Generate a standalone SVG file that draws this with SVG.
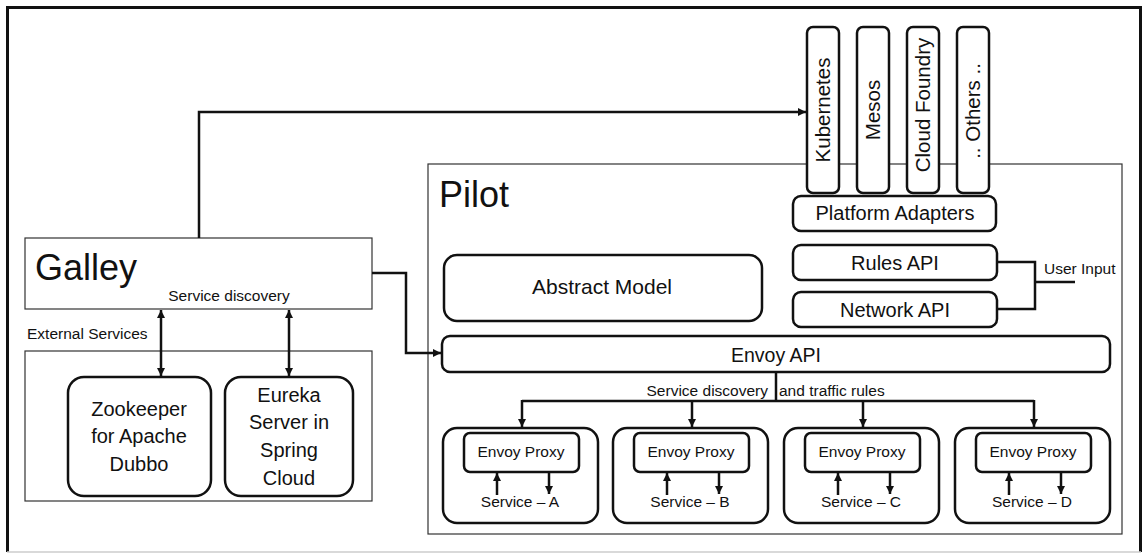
<svg xmlns="http://www.w3.org/2000/svg" width="1143" height="553" viewBox="0 0 1143 553">
<style>
text{font-family:"Liberation Sans",Arial,sans-serif;fill:#111}
.thin{fill:#fff;stroke:#333;stroke-width:1.2}
.rb{fill:#fff;stroke:#111;stroke-width:2.5}
.ln{fill:none;stroke:#111;stroke-width:2.5}
.c{text-anchor:middle}
</style>
<defs>
<marker id="arr" viewBox="0 0 10 10" refX="10" refY="5" markerWidth="8" markerHeight="8" markerUnits="userSpaceOnUse" orient="auto-start-reverse"><path d="M0,0 L10,5 L0,10 z" fill="#111"/></marker>
</defs>
<rect x="0" y="0" width="1143" height="553" fill="#fff"/>
<path d="M7.5,552 V7.5 H1140.5 V552" fill="none" stroke="#111" stroke-width="3"/>
<line x1="7" y1="552" x2="1141" y2="552" stroke="#ccc" stroke-width="1.5"/>

<g id="galley">
<rect class="thin" x="25" y="238" width="347" height="71"/>
<text x="35" y="280" font-size="36">Galley</text>
<text x="229" y="301" font-size="15.5" class="c">Service discovery</text>
</g>
<g id="external-services">
<text x="27" y="339" font-size="15.5">External Services</text>
<rect class="thin" x="25" y="351" width="347" height="150"/>
</g>
<g id="zookeeper">
<rect class="rb" x="68" y="377" width="143" height="119" rx="16"/>
<text class="c" font-size="20" x="139" y="416">Zookeeper</text>
<text class="c" font-size="20" x="139" y="443">for Apache</text>
<text class="c" font-size="20" x="139" y="471">Dubbo</text>
</g>
<g id="eureka">
<rect class="rb" x="225" y="377" width="128" height="119" rx="16"/>
<text class="c" font-size="20" x="289" y="402">Eureka</text>
<text class="c" font-size="20" x="289" y="429">Server in</text>
<text class="c" font-size="20" x="289" y="457">Spring</text>
<text class="c" font-size="20" x="289" y="485">Cloud</text>
</g>
<g id="pilot">
<rect class="thin" x="428" y="164" width="694" height="370"/>
<text x="439" y="207" font-size="36">Pilot</text>
</g>
<g id="kubernetes">
<rect class="rb" x="807" y="27" width="32" height="166" rx="6"/>
<text class="c" font-size="20.5" transform="translate(830,110) rotate(-90)">Kubernetes</text>
</g>
<g id="mesos">
<rect class="rb" x="857" y="27" width="32" height="166" rx="6"/>
<text class="c" font-size="20.5" transform="translate(880,110) rotate(-90)">Mesos</text>
</g>
<g id="cloud-foundry">
<rect class="rb" x="907" y="27" width="32" height="166" rx="6"/>
<text class="c" font-size="20.5" transform="translate(930,105) rotate(-90)">Cloud Foundry</text>
</g>
<g id="others">
<rect class="rb" x="957" y="27" width="32" height="166" rx="6"/>
<text class="c" font-size="20.5" transform="translate(980,111) rotate(-90)">.. Others ..</text>
</g>
<g id="platform-adapters">
<rect class="rb" x="793" y="196" width="203" height="35" rx="8"/>
<text class="c" font-size="20" x="895" y="220">Platform Adapters</text>
</g>
<g id="rules-api">
<rect class="rb" x="793" y="245" width="204" height="35" rx="8"/>
<text class="c" font-size="20" x="895" y="270">Rules API</text>
</g>
<g id="network-api">
<rect class="rb" x="793" y="292" width="204" height="35" rx="8"/>
<text class="c" font-size="20" x="895" y="317">Network API</text>
</g>
<g id="user-input">
<text x="1044" y="274" font-size="15.5">User Input</text>
</g>
<g id="abstract-model">
<rect class="rb" x="444" y="255" width="318" height="66" rx="13"/>
<text class="c" font-size="21" x="602" y="294">Abstract Model</text>
</g>
<g id="envoy-api">
<rect class="rb" x="442" y="336" width="668" height="36" rx="8"/>
<text class="c" font-size="19.5" x="776" y="362">Envoy API</text>
</g>
<g id="traffic-label">
<text x="768" y="396" font-size="15.5" text-anchor="end">Service discovery</text>
<text x="779" y="396" font-size="15.5">and traffic rules</text>
</g>
<g id="service-a">
<rect class="rb" x="443" y="428" width="155" height="95" rx="14"/>
<rect class="rb" x="464" y="433" width="115" height="39" rx="6"/>
<text class="c" font-size="15.5" x="521" y="457">Envoy Proxy</text>
<text class="c" font-size="15.5" x="520" y="507">Service – A</text>
</g>
<g id="service-b">
<rect class="rb" x="613" y="428" width="155" height="95" rx="14"/>
<rect class="rb" x="634" y="433" width="115" height="39" rx="6"/>
<text class="c" font-size="15.5" x="691" y="457">Envoy Proxy</text>
<text class="c" font-size="15.5" x="690" y="507">Service – B</text>
</g>
<g id="service-c">
<rect class="rb" x="784" y="428" width="155" height="95" rx="14"/>
<rect class="rb" x="805" y="433" width="115" height="39" rx="6"/>
<text class="c" font-size="15.5" x="862" y="457">Envoy Proxy</text>
<text class="c" font-size="15.5" x="861" y="507">Service – C</text>
</g>
<g id="service-d">
<rect class="rb" x="955" y="428" width="155" height="95" rx="14"/>
<rect class="rb" x="976" y="433" width="115" height="39" rx="6"/>
<text class="c" font-size="15.5" x="1033" y="457">Envoy Proxy</text>
<text class="c" font-size="15.5" x="1032" y="507">Service – D</text>
</g>

<g id="connectors">
<path class="ln" d="M199,238 V112 H806" marker-end="url(#arr)"/>
<path class="ln" d="M372,273 H406 V353 H441" marker-end="url(#arr)"/>
<path class="ln" d="M161,310 V376" marker-start="url(#arr)" marker-end="url(#arr)"/>
<path class="ln" d="M289,310 V376" marker-start="url(#arr)" marker-end="url(#arr)"/>
<path class="ln" d="M997,262 H1035 V309 H997"/>
<path class="ln" d="M1035,282 H1075"/>
<path class="ln" d="M776,372 V401"/>
<path class="ln" d="M522,401 H1034"/>
<path class="ln" d="M522,400 V427" marker-end="url(#arr)"/>
<path class="ln" d="M692,400 V427" marker-end="url(#arr)"/>
<path class="ln" d="M863,400 V427" marker-end="url(#arr)"/>
<path class="ln" d="M1034,400 V427" marker-end="url(#arr)"/>
<path class="ln" d="M497,495 V473" marker-end="url(#arr)"/>
<path class="ln" d="M549,473 V494" marker-end="url(#arr)"/>
<path class="ln" d="M667,495 V473" marker-end="url(#arr)"/>
<path class="ln" d="M719,473 V494" marker-end="url(#arr)"/>
<path class="ln" d="M838,495 V473" marker-end="url(#arr)"/>
<path class="ln" d="M890,473 V494" marker-end="url(#arr)"/>
<path class="ln" d="M1009,495 V473" marker-end="url(#arr)"/>
<path class="ln" d="M1061,473 V494" marker-end="url(#arr)"/>
</g>
</svg>
